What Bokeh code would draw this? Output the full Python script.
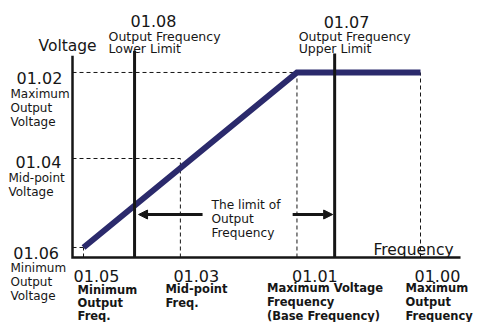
from bokeh.plotting import figure
from bokeh.models import Range1d, Arrow, NormalHead
from bokeh.embed import file_html
from bokeh.resources import INLINE
from bokeh.core.properties import value

# ---- data ----
freq_values = [1.9, 18.6, 38.7, 60.0]          # min, mid-point, base, maximum output frequency
freq_codes = ["01.05", "01.03", "01.01", "01.00"]
freq_names = [["Minimum", "Output", "Freq."],
              ["Mid-point", "Freq."],
              ["Maximum Voltage", "Frequency", "(Base Frequency)"],
              ["Maximum", "Output", "Frequency"]]
volt_values = [11.9, 117.7, 220.0]             # min, mid-point, maximum output voltage
volt_codes = ["01.06", "01.04", "01.02"]
volt_names = [["Minimum", "Output", "Voltage"],
              ["Mid-point", "Voltage"],
              ["Maximum", "Output", "Voltage"]]
limit_values = [10.7, 45.2]                    # output frequency lower / upper limit
limit_codes = ["01.08", "01.07"]
limit_names = [["Output Frequency", "Lower Limit"],
               ["Output Frequency", "Upper Limit"]]
axis_titles = ["Voltage", "Frequency"]
limit_text = ["The limit of", "Output", "Frequency"]

# ---- layout helpers (reference pixel -> data) ----
OX, OY = 72.0, 257.0
SX, SY = 5.8, 0.841
def px_x(rx):
    return (rx - OX) / SX
def px_y(ry):
    return (OY - ry) / SY

W, H = 478, 322
p = figure(width=W, height=H, output_backend="svg", toolbar_location=None,
           x_range=Range1d(px_x(0), px_x(W)), y_range=Range1d(px_y(H), px_y(0)),
           x_axis_location=None, y_axis_location=None,
           min_border=0, min_border_left=0, min_border_right=0,
           min_border_top=0, min_border_bottom=0,
           outline_line_color=None, background_fill_color="white",
           border_fill_color="white")
p.grid.grid_line_color = None

INK = "#161616"
NAVY = "#2b2a6c"
FONT = value("DejaVu Sans")

f_min, f_mid, f_base, f_max = freq_values
v_min, v_mid, v_max = volt_values

# dashed guide lines
hx0 = [0, 0, 0]
hx1 = [f_min, f_mid, f_base]
hy = [v_min, v_mid, v_max]
p.segment(x0=hx0, y0=hy, x1=hx1, y1=hy, line_color=INK, line_width=1, line_dash="4 3")
vx = [f_min, f_mid, f_base, f_max]
vy1 = [v_min, v_mid, v_max, v_max]
p.segment(x0=vx, y0=[0] * 4, x1=vx, y1=vy1, line_color=INK, line_width=1, line_dash="4 3")

# V/f curve
p.line(x=[f_min, f_base, f_max], y=[v_min, v_max, v_max], line_color=NAVY,
       line_width=6, line_join="miter", line_cap="butt")

# limit lines
p.segment(x0=limit_values, y0=[0, 0], x1=limit_values,
          y1=[v_max * 1.118, v_max * 1.103], line_color=INK, line_width=3)

# axes
p.line(x=[0, 0, f_max * 1.115], y=[v_max * 1.09, 0, 0], line_color=INK,
       line_width=2.5, line_join="miter")

# arrows
ay = px_y(214)
p.add_layout(Arrow(end=NormalHead(size=9, fill_color=INK, line_color=INK, line_width=1),
                   x_start=limit_values[0] + 68 / SX, y_start=ay,
                   x_end=limit_values[0] + 4 / SX, y_end=ay, line_color=INK, line_width=3))
p.add_layout(Arrow(end=NormalHead(size=9, fill_color=INK, line_color=INK, line_width=1),
                   x_start=limit_values[1] - 42 / SX, y_start=ay,
                   x_end=limit_values[1] - 2 / SX, y_end=ay, line_color=INK, line_width=3))

# ---- texts ----
def txt(xs, ys, texts, size, bold=False):
    p.text(x=xs, y=ys, text=texts, text_font=FONT, text_font_size=value(f"{size}px"),
           text_font_style="bold" if bold else "normal", text_color=INK,
           text_align="left", text_baseline="alphabetic")

# frequency codes and names
code_dx = [-10, -7, -5, -6]
name_dx = [-6, -15, -30, -15]
name_base = [289, 288, 287, 287]
name_step = [13, 14, 14, 14]
txt([f + dx / SX for f, dx in zip(freq_values, code_dx)], [px_y(275)] * 4, freq_codes, 16)
for f, dx, b, st, names in zip(freq_values, name_dx, name_base, name_step, freq_names):
    txt([f + dx / SX] * len(names), [px_y(b + st * i) for i in range(len(names))], names, 11.5, True)

# voltage codes and names
vcode_x = [12.7, 15, 16]
vcode_b = [252, 161, 77]
vname_x = [10, 8, 10]
vname_b = [267, 177, 93]
txt([px_x(x) for x in vcode_x], [px_y(b) for b in vcode_b], volt_codes, 16)
for x, b, names in zip(vname_x, vname_b, volt_names):
    txt([px_x(x)] * len(names), [px_y(b + 14 * i) for i in range(len(names))], names, 12)

# limit codes and names
lcode_dx = [-4, -11]
lname_dx = [-26, -36]
txt([l + dx / SX for l, dx in zip(limit_values, lcode_dx)], [px_y(20), px_y(21)], limit_codes, 16)
for l, dx, names in zip(limit_values, lname_dx, limit_names):
    txt([l + dx / SX] * 2, [px_y(35.5), px_y(47.5)], names, 12.5)

# axis titles
txt([px_x(38), px_x(373)], [px_y(45), px_y(249)], axis_titles, 15.5)

# limit text
txt([px_x(211)] * 3, [px_y(204), px_y(218), px_y(232)], limit_text, 12.2)

open("out.html", "w").write(file_html(p, INLINE))
